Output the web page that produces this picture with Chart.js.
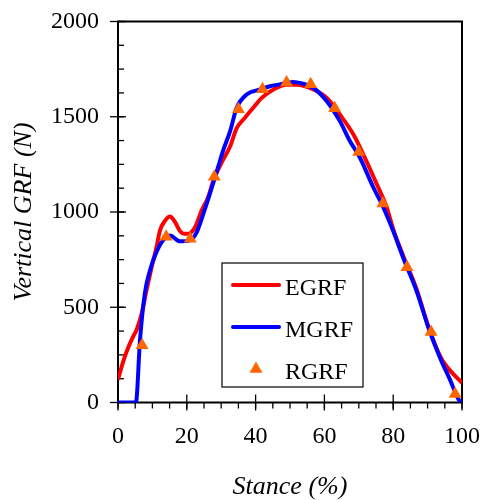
<!DOCTYPE html>
<html>
<head>
<meta charset="utf-8">
<script src="https://cdn.jsdelivr.net/npm/chart.js@4.4.1/dist/chart.umd.min.js"></script>
<style>
  body { margin: 0; background: #fff; }
</style>
</head>
<body>
<canvas id="grfChart" width="482" height="500"></canvas>
<script>
//
// Data
//

// EGRF (red line)
var egrfStance = [0, 1.5, 3, 4.4, 5.4, 6.9, 8.3, 9.8, 11.2, 12.2, 13.7, 15.1, 16.6, 18, 19.2, 20.4, 22.4, 24.3, 26.2, 27.7,
  30, 32.6, 34.5, 36.9, 39.3, 41.8, 45.2, 49, 52, 56.8, 60.7, 64.5, 68.4, 71.3, 75.2, 78.1, 80, 82.9, 86.8, 90.2,
  93.6, 95.5, 100];
var egrfForce = [120, 215, 290, 346, 381, 468, 590, 712, 816, 903, 955, 976, 947, 900, 886, 886, 920, 1007, 1077, 1164,
  1255, 1345, 1440, 1495, 1547, 1599, 1643, 1668, 1668, 1643, 1599, 1512, 1408, 1303, 1147, 1025, 910, 770, 595, 400,
  245, 190, 103];

// MGRF (blue line)
var mgrfStance = [0, 5.2, 6.4, 7.8, 9.3, 10.8, 12.7, 15.1, 18, 20.9, 22.9, 24.8, 26.7, 29, 30.5, 32.6, 34.5, 37.4, 41.3,
  44.2, 47, 50.9, 53.5, 56.8, 60.7, 64.5, 67.4, 70.3, 74.2, 77.1, 80, 82.9, 86.8, 90.2, 93.6, 96.5, 99, 100];
var mgrfForce = [0, 0, 329, 573, 694, 773, 842, 877, 846, 851, 894, 990, 1095, 1230, 1320, 1425, 1547, 1617, 1643,
  1660, 1670, 1683, 1675, 1651, 1582, 1477, 1373, 1286, 1130, 1025, 900, 760, 585, 395, 235, 120, 16, 0];

// RGRF (triangles)
var rgrfStance = [7, 14, 21, 28, 35, 42, 49, 56, 63, 70, 77, 84, 91, 98];
var rgrfForce = [300, 870, 860, 1185, 1540, 1645, 1680, 1670, 1545, 1315, 1045, 710, 370, 45];

// Axis ticks
var xTicks = [0, 20, 40, 60, 80, 100];
var yTicks = [0, 500, 1000, 1500, 2000];
var xMinorStep = 5;
var yMinorStep = 125;

var serif = "'Liberation Serif', 'Times New Roman', serif";


//
// Methods
//

/**
 * Zip two arrays into {x, y} points
 */
function toPoints(xs, ys) {
    return xs.map(function (x, i) {
        return { x: x, y: ys[i] };
    });
}

function strokeLine(ctx, x1, y1, x2, y2) {
    ctx.beginPath();
    ctx.moveTo(x1, y1);
    ctx.lineTo(x2, y2);
    ctx.stroke();
}

/**
 * Frame round the plot with crossing major ticks and small minor ticks
 */
var framePlugin = {
    id: 'frame',
    beforeDatasetsDraw: function (chart) {
        var ctx = chart.ctx;
        var area = chart.chartArea;
        var xs = chart.scales.x;
        var ys = chart.scales.y;
        var v, p;

        ctx.save();
        ctx.strokeStyle = '#000';
        ctx.lineWidth = 1.3;

        // minor ticks: x outside, y inside
        for (v = xs.min; v <= xs.max; v += xMinorStep) {
            p = xs.getPixelForValue(v);
            strokeLine(ctx, p, area.bottom, p, area.bottom + 6);
        }
        for (v = ys.min; v <= ys.max; v += yMinorStep) {
            p = ys.getPixelForValue(v);
            strokeLine(ctx, area.left, p, area.left + 6, p);
        }

        // major ticks cross the axis
        xTicks.forEach(function (t) {
            p = xs.getPixelForValue(t);
            strokeLine(ctx, p, area.bottom - 8, p, area.bottom + 8);
        });
        yTicks.forEach(function (t) {
            p = ys.getPixelForValue(t);
            strokeLine(ctx, area.left - 8, p, area.left + 8, p);
        });

        ctx.lineWidth = 2;
        ctx.strokeRect(area.left, area.top, area.right - area.left, area.bottom - area.top);
        ctx.restore();
    }
};

/**
 * Boxed legend inside the plot, built from the datasets
 */
var boxLegendPlugin = {
    id: 'boxLegend',
    afterDraw: function (chart) {
        var ctx = chart.ctx;
        var left = 222, top = 263, width = 141, height = 124, rowGap = 42;

        ctx.save();
        ctx.strokeStyle = '#000';
        ctx.lineWidth = 1.2;
        ctx.strokeRect(left, top, width, height);

        chart.data.datasets.forEach(function (ds, i) {
            var rowY = top + 22 + i * rowGap;

            if (ds.showLine === false) {
                ctx.fillStyle = ds.pointBackgroundColor;
                Chart.helpers.drawPoint(ctx, {
                    pointStyle: ds.pointStyle,
                    radius: ds.pointRadius,
                    rotation: 0,
                    borderWidth: 0
                }, 256, rowY);
            } else {
                ctx.strokeStyle = ds.borderColor;
                ctx.lineWidth = ds.borderWidth;
                ctx.lineCap = 'round';
                strokeLine(ctx, 233, rowY, 279, rowY);
            }

            ctx.fillStyle = '#000';
            ctx.font = '24px ' + serif;
            ctx.textBaseline = 'alphabetic';
            ctx.textAlign = 'left';
            ctx.fillText(ds.label, 285, rowY + 10);
        });
        ctx.restore();
    }
};

function plainLabel(value) {
    return String(value);
}


//
// Chart
//

var ctx = document.querySelector('#grfChart').getContext('2d');
var chart = new Chart(ctx, {
    type: 'line',
    data: {
        datasets: [{
            label: 'EGRF',
            data: toPoints(egrfStance, egrfForce),
            borderColor: '#ff0000',
            borderWidth: 4,
            pointRadius: 0,
            cubicInterpolationMode: 'monotone',
            fill: false,
            order: 2
        }, {
            label: 'MGRF',
            data: toPoints(mgrfStance, mgrfForce),
            borderColor: '#0000ff',
            borderWidth: 4,
            pointRadius: 0,
            cubicInterpolationMode: 'monotone',
            fill: false,
            order: 1
        }, {
            label: 'RGRF',
            data: toPoints(rgrfStance, rgrfForce),
            showLine: false,
            pointStyle: 'triangle',
            pointRadius: 7.5,
            pointBackgroundColor: '#ff6600',
            pointBorderWidth: 0,
            order: 0
        }]
    },
    options: {
        responsive: false,
        animation: false,
        layout: {
            padding: { top: 21.5, right: 20, left: 0, bottom: 0 }
        },
        plugins: {
            legend: { display: false },
            tooltip: { enabled: false }
        },
        scales: {
            x: {
                type: 'linear',
                min: 0,
                max: 100,
                grid: { display: false, drawTicks: false },
                border: { display: false },
                afterBuildTicks: function (scale) {
                    scale.ticks = xTicks.map(function (v) { return { value: v }; });
                },
                afterFit: function (scale) {
                    // fixed box, no extra room for the end labels
                    scale.height = 97.5;
                    scale.paddingLeft = 0;
                    scale.paddingRight = 0;
                },
                ticks: {
                    color: '#000',
                    padding: 20,
                    maxRotation: 0,
                    autoSkip: false,
                    callback: plainLabel,
                    font: { family: serif, size: 24 }
                },
                title: {
                    display: true,
                    text: 'Stance (%)',
                    color: '#000',
                    font: { family: serif, size: 26, style: 'italic', lineHeight: 1 },
                    padding: { top: 0, bottom: 0 }
                }
            },
            y: {
                min: 0,
                max: 2000,
                grid: { display: false, drawTicks: false },
                border: { display: false },
                afterBuildTicks: function (scale) {
                    scale.ticks = yTicks.map(function (v) { return { value: v }; });
                },
                afterFit: function (scale) {
                    scale.width = 118;
                    scale.paddingTop = 0;
                    scale.paddingBottom = 0;
                },
                ticks: {
                    color: '#000',
                    padding: 19,
                    autoSkip: false,
                    callback: plainLabel,
                    font: { family: serif, size: 24 }
                },
                title: {
                    display: true,
                    text: 'Vertical GRF (N)',
                    color: '#000',
                    font: { family: serif, size: 26, style: 'italic', lineHeight: 1 },
                    padding: { top: 11, bottom: 0 }
                }
            }
        }
    },
    plugins: [framePlugin, boxLegendPlugin]
});
</script>
</body>
</html>
